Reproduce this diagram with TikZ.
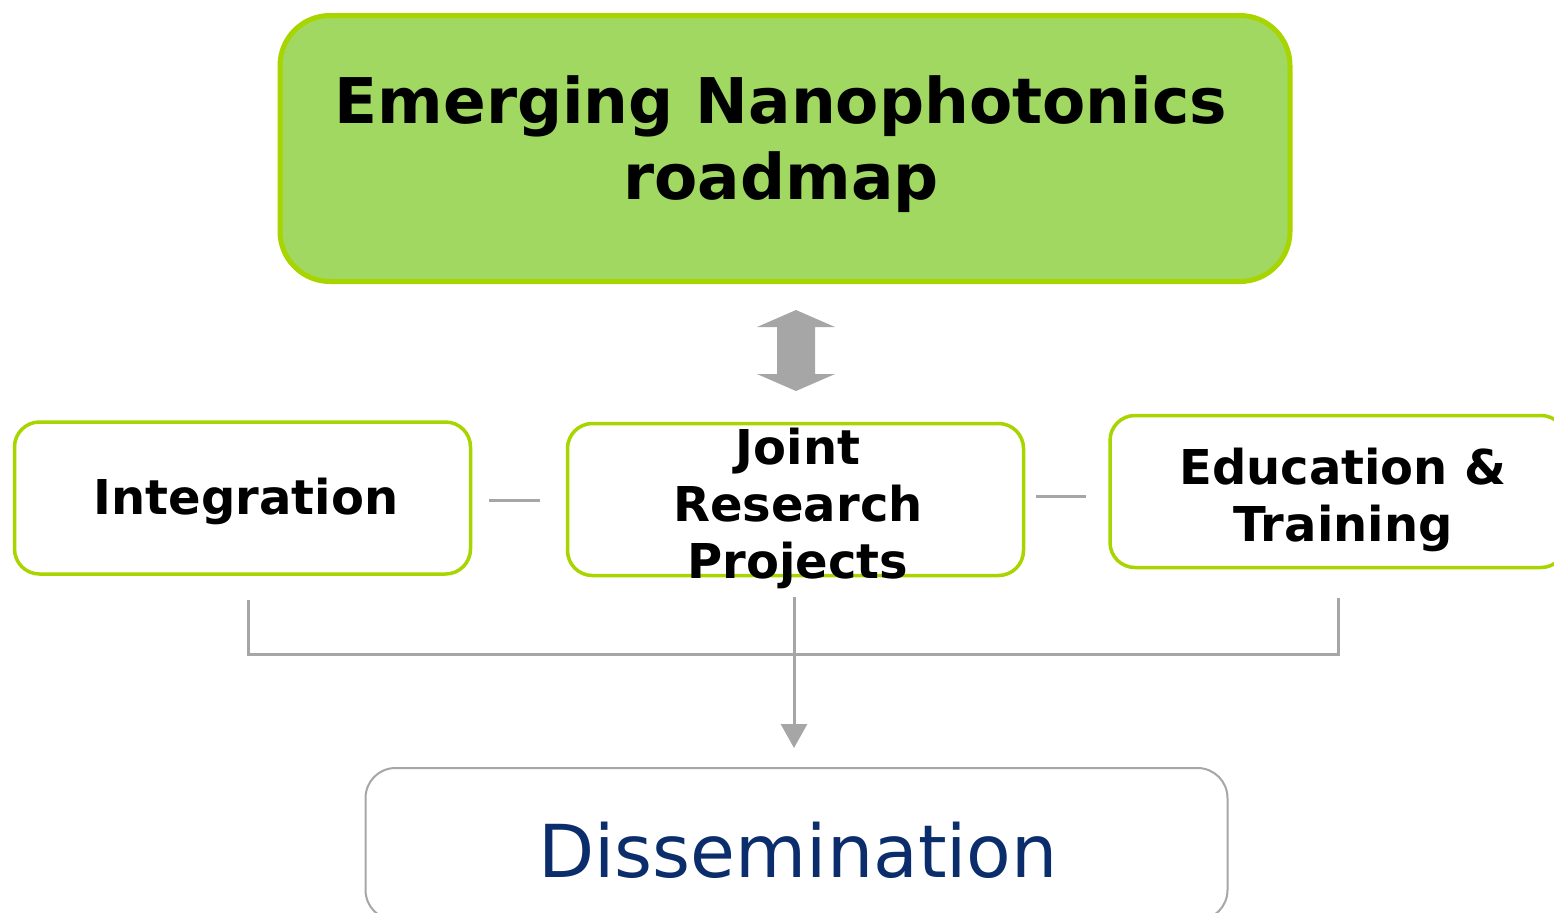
\documentclass[tikz,border=0pt]{standalone}
\usepackage{fontspec}
\setmainfont{DejaVu Sans}
\usetikzlibrary{calc,arrows.meta}
\definecolor{lime}{HTML}{A8D400}
\definecolor{leaf}{HTML}{A0D862}
\definecolor{linegray}{HTML}{A6A6A6}
\definecolor{navy}{HTML}{0B2D6B}
\begin{document}
\begin{tikzpicture}[x=0.5pt,y=-0.5pt,
  box/.style={draw=lime,line width=1.75pt,rounded corners=12.5pt,fill=white,inner sep=0pt},
  lbl/.style={font=\bfseries\fontsize{24}{28.5}\selectfont,align=center,inner sep=0pt},
  conn/.style={draw=linegray,line width=1.5pt}]
\useasboundingbox (0,0) rectangle (1554,912);

% main roadmap box
\node[draw=lime,fill=leaf,line width=2.5pt,rounded corners=25pt,
      minimum width=505pt,minimum height=133pt,inner sep=0pt] (road) at (785,148.5) {};
\node[font=\bfseries\fontsize{31.5}{38}\selectfont,align=center,inner sep=0pt] (roadtxt) at (781,144)
  {Emerging Nanophotonics\\roadmap};

% the three activity boxes
\node[box,minimum width=228pt,minimum height=76pt] (int) at (242.5,498) {};
\node[box,minimum width=228pt,minimum height=76pt] (jrp) at (795.5,499.5) {};
\node[box,minimum width=228pt,minimum height=76pt] (edu) at (1338,491.5) {};
\node[lbl] (inttxt) at (246,501) {Integration};
\node[lbl] (jrptxt) at (798,508) {Joint\\Research\\Projects};
\node[lbl] (edutxt) at (1343,500) {Education \&\\Training};

% dissemination box, running past the lower edge
\node[draw=linegray,line width=1pt,rounded corners=15pt,fill=white,
      minimum width=431pt,minimum height=76pt,inner sep=0pt] (dis) at (796.5,844) {};
\node[text=navy,font=\fontsize{36.5}{40}\selectfont,inner sep=0pt] (distxt) at (798,850) {Dissemination};

% two-headed arrow between roadmap and activities
\fill[linegray] (796,310) -- (835,327) -- (815,327) -- (815,374) -- (835,374)
  -- (796,391) -- (757,374) -- (777,374) -- (777,327) -- (757,327) -- cycle;

% short links between activity boxes
\draw[conn] ($(int.east)+(17,2)$) -- ($(jrp.west)+(-26,0.5)$);
\draw[conn] ($(jrp.east)+(11,-3.5)$) -- ($(edu.west)+(-22,4.5)$);

% bracket collecting the activities
\draw[conn] (248,600) -- (248,654) -- (1338,654) -- (1338,598);
\draw[conn,-{Triangle[width=13pt,length=12pt]}] ($(jrp.south)+(-1.5,20)$) -- ($(dis.north)+(-2.5,-19)$);
\end{tikzpicture}
\end{document}
